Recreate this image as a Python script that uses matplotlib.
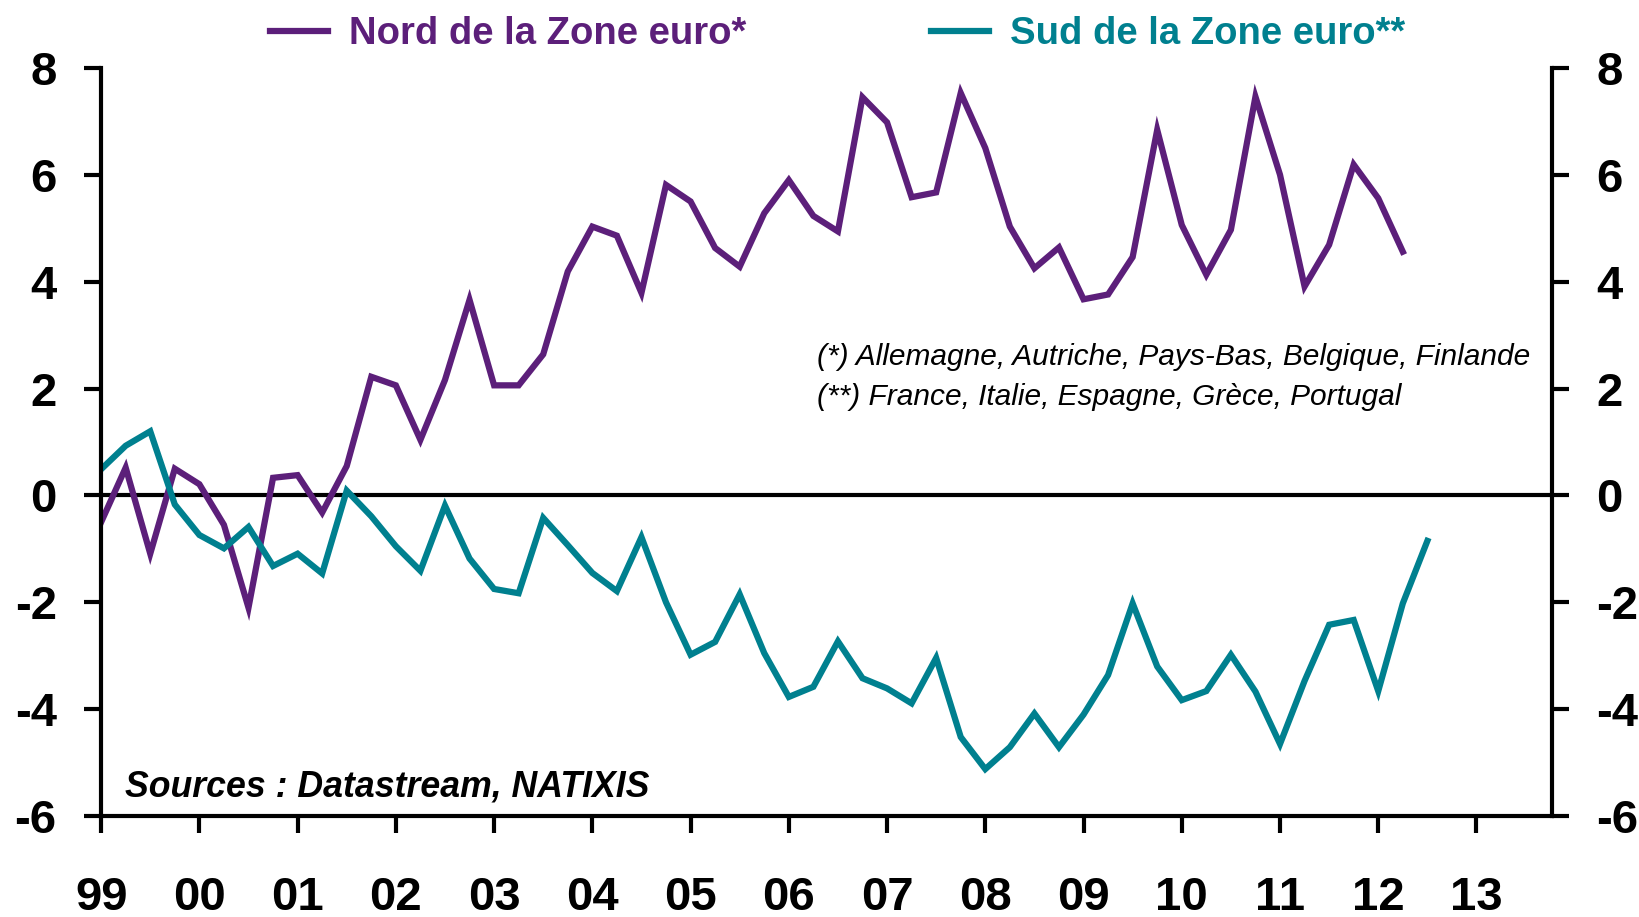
import numpy as np
import matplotlib
matplotlib.use("Agg")
import matplotlib.pyplot as plt

plt.rcParams['font.family'] = ['Liberation Sans', 'DejaVu Sans']
plt.rcParams['axes.unicode_minus'] = False

# quarterly data, 1999 Q1 onwards
nord = [-0.5, 0.52, -1.09, 0.5, 0.21, -0.55, -2.1, 0.33,
        0.38, -0.32, 0.55, 2.22, 2.06, 1.04, 2.16, 3.66,
        2.06, 2.06, 2.64, 4.19, 5.03, 4.86, 3.79, 5.81,
        5.5, 4.63, 4.28, 5.28, 5.9, 5.23, 4.94, 7.45,
        6.98, 5.58, 5.67, 7.53, 6.5, 5.03, 4.25, 4.64,
        3.67, 3.76, 4.46, 6.84, 5.06, 4.13, 4.97, 7.46,
        6.0, 3.91, 4.69, 6.19, 5.56, 4.56]
sud = [0.49, 0.93, 1.2, -0.17, -0.74, -0.99, -0.59, -1.32,
       -1.09, -1.46, 0.09, -0.39, -0.95, -1.41, -0.19, -1.18,
       -1.75, -1.83, -0.42, -0.93, -1.45, -1.79, -0.78, -2.0,
       -2.98, -2.74, -1.85, -2.95, -3.77, -3.58, -2.73, -3.42,
       -3.61, -3.89, -3.04, -4.52, -5.12, -4.71, -4.08, -4.71,
       -4.1, -3.36, -2.02, -3.2, -3.83, -3.66, -2.98, -3.67,
       -4.65, -3.47, -2.42, -2.33, -3.66, -2.02, -0.85]
years = list(range(1999, 2014))
year_labels = ["99", "00", "01", "02", "03", "04", "05", "06", "07",
               "08", "09", "10", "11", "12", "13"]

x_nord = 1999 + np.arange(len(nord)) / 4
x_sud = 1999 + np.arange(len(sud)) / 4

purple = "#5C1F7A"
teal = "#00808F"

fig = plt.figure(figsize=(16.39, 9.17), dpi=100)
ax = fig.add_axes([0.0617, 0.110, 0.8853, 0.816])

ax.plot(x_nord, nord, color=purple, lw=4.5, solid_joinstyle='miter', label="Nord de la Zone euro*")
ax.plot(x_sud, sud, color=teal, lw=4.5, solid_joinstyle='miter', label="Sud de la Zone euro**")
ax.axhline(0, color="black", lw=3, zorder=1)

ax.set_xlim(1999, 2013.77)
ax.set_ylim(-6, 8)
ax.set_yticks(range(-6, 9, 2))
ax.set_xticks(years)
ax.set_xticklabels(year_labels)

for s in ["left", "right", "bottom"]:
    ax.spines[s].set_linewidth(3)
ax.spines["top"].set_visible(False)

ax.tick_params(axis="y", direction="out", length=12, width=3, pad=20,
               labelsize=34, right=True, labelright=True)
ax.tick_params(axis="x", direction="out", length=12, width=3, pad=31,
               labelsize=34)
for lab in ax.get_xticklabels() + ax.get_yticklabels():
    lab.set_fontweight("bold")

fig.legend(loc="center", bbox_to_anchor=(0.511, 0.963), ncol=2, frameon=False,
           prop={"weight": "bold", "size": 27.5}, labelcolor="linecolor",
           handlelength=1.5, handletextpad=0.55, columnspacing=4.85)

fig.text(817 / 1639, 1 - 357 / 917, "(*) Allemagne, Autriche, Pays-Bas, Belgique, Finlande",
         fontsize=21.5, style="italic", va="center", ha="left")
fig.text(817 / 1639, 1 - 397 / 917, "(**) France, Italie, Espagne, Grèce, Portugal",
         fontsize=21.5, style="italic", va="center", ha="left")
fig.text(125 / 1639, 1 - 787 / 917, "Sources : Datastream, NATIXIS",
         fontsize=25.7, style="italic", weight="bold", va="center", ha="left")

fig.savefig("out.png", dpi=100)
